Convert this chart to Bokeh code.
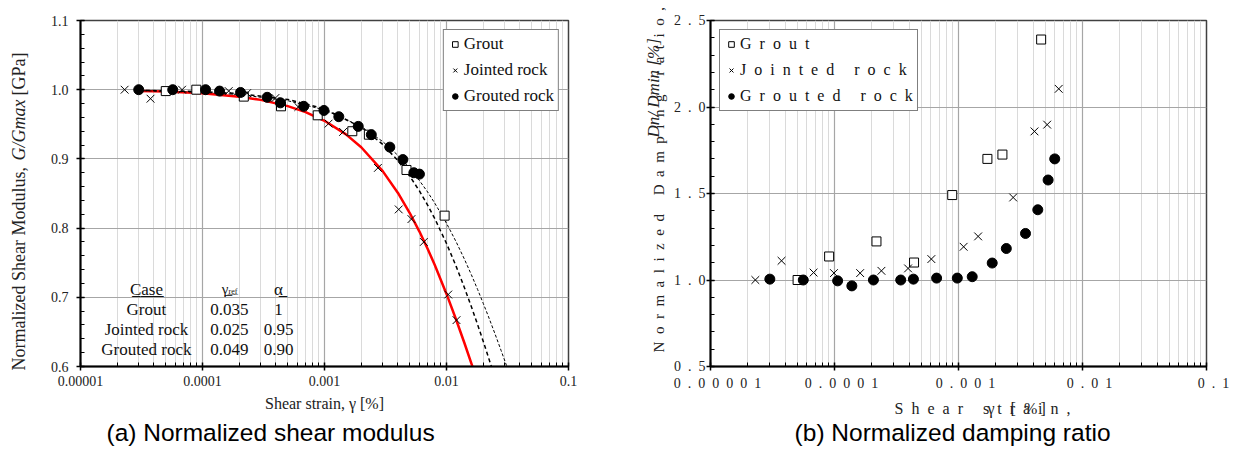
import math
from bokeh.plotting import figure
from bokeh.models import (Range1d, FixedTicker, SingleIntervalTicker, CustomJSTickFormatter,
                          Label, ColumnDataSource, Legend, LegendItem)
from bokeh.layouts import row
from bokeh.embed import file_html
from bokeh.resources import INLINE
from bokeh.core.properties import value

# ---------------- data: (a) normalized shear modulus ----------------
grout_x = [5.0e-5, 8.9e-5, 2.18e-4, 4.4e-4, 8.8e-4, 1.69e-3, 2.31e-3, 4.7e-3, 9.65e-3]
grout_y = [0.998, 1.000, 0.990, 0.976, 0.963, 0.940, 0.935, 0.884, 0.818]
joint_x = [2.3e-5, 3.75e-5, 6.8e-5, 1.64e-4, 2.32e-4, 3.96e-4, 6.1e-4, 1.08e-3, 1.42e-3,
           2.74e-3, 4.06e-3, 5.16e-3, 6.52e-3, 1.033e-2, 1.208e-2]
joint_y = [1.000, 0.987, 1.000, 0.998, 0.995, 0.988, 0.975, 0.951, 0.939,
           0.887, 0.827, 0.813, 0.780, 0.704, 0.667]
groutrock_x = [3.0e-5, 5.7e-5, 1.06e-4, 1.38e-4, 2.05e-4, 3.39e-4, 4.35e-4, 6.76e-4, 9.9e-4,
               1.31e-3, 1.89e-3, 2.42e-3, 3.43e-3, 4.39e-3, 5.4e-3, 6.0e-3]
groutrock_y = [1.000, 1.000, 1.000, 0.998, 0.996, 0.989, 0.981, 0.976, 0.970,
               0.961, 0.947, 0.935, 0.917, 0.899, 0.880, 0.878]

# fitted curves
fit_joint_x = [3e-5, 5e-5, 1e-4, 2e-4, 3e-4, 5e-4, 7e-4, 1e-3, 1.5e-3, 2e-3, 3e-3, 4e-3,
               5e-3, 6e-3, 7e-3, 8e-3, 1e-2, 1.2e-2, 1.4e-2, 1.65e-2]
fit_joint_y = [0.9983, 0.9973, 0.9948, 0.9899, 0.9853, 0.9763, 0.9676, 0.9551, 0.9354, 0.9168,
               0.8823, 0.8508, 0.8218, 0.7950, 0.7702, 0.7470, 0.7049, 0.6676, 0.6343, 0.5974]
fit_grout_x = [3e-5, 1e-4, 2e-4, 5e-4, 1e-3, 2e-3, 3e-3, 4e-3, 5e-3, 6e-3, 7e-3, 8e-3,
               1e-2, 1.2e-2, 1.4e-2, 1.6e-2, 1.8e-2, 2e-2, 2.2e-2, 2.4e-2]
fit_grout_y = [0.9991, 0.9972, 0.9943, 0.9859, 0.9722, 0.9459, 0.9211, 0.8974, 0.8750, 0.8537,
               0.8333, 0.8140, 0.7778, 0.7447, 0.7143, 0.6863, 0.6604, 0.6364, 0.6140, 0.5932]
fit_groutrock_x = [3e-5, 1e-4, 2e-4, 5e-4, 1e-3, 2e-3, 3e-3, 4e-3, 5e-3, 6e-3, 7e-3, 8e-3,
                   1e-2, 1.2e-2, 1.4e-2, 1.6e-2, 1.8e-2, 2e-2, 2.2e-2, 2.5e-2, 2.8e-2, 3.1e-2, 3.3e-2]
fit_groutrock_y = [0.9987, 0.9962, 0.9930, 0.9841, 0.9708, 0.9468, 0.9251, 0.9051, 0.8864, 0.8687,
                   0.8522, 0.8363, 0.8070, 0.7801, 0.7554, 0.7325, 0.7112, 0.6913, 0.6728, 0.6470,
                   0.6233, 0.6016, 0.5880]

table_case = ["Grout", "Jointed rock", "Grouted rock"]
table_gref = ["0.035", "0.025", "0.049"]
table_alpha = ["1", "0.95", "0.90"]

# ---------------- data: (b) normalized damping ratio ----------------
d_grout_x = [5.04e-5, 9.05e-5, 2.18e-4, 4.38e-4, 8.9e-4, 1.71e-3, 2.26e-3, 4.64e-3]
d_grout_y = [1.000, 1.136, 1.223, 1.101, 1.491, 1.700, 1.725, 2.390]
d_joint_x = [2.3e-5, 3.74e-5, 6.78e-5, 9.9e-5, 1.61e-4, 2.39e-4, 3.92e-4, 6.04e-4, 1.10e-3,
             1.44e-3, 2.76e-3, 4.10e-3, 5.19e-3, 6.43e-3]
d_joint_y = [1.000, 1.111, 1.043, 1.040, 1.040, 1.053, 1.067, 1.121, 1.192,
             1.252, 1.477, 1.859, 1.898, 2.105]
d_groutrock_x = [3.01e-5, 5.6e-5, 1.06e-4, 1.38e-4, 2.06e-4, 3.42e-4, 4.33e-4, 6.66e-4, 9.78e-4,
                 1.29e-3, 1.87e-3, 2.43e-3, 3.47e-3, 4.36e-3, 5.28e-3, 5.97e-3]
d_groutrock_y = [1.005, 1.000, 0.995, 0.966, 1.000, 1.000, 1.005, 1.011, 1.011,
                 1.019, 1.098, 1.182, 1.269, 1.406, 1.578, 1.700]

x_tick_labels = ["0.00001", "0.0001", "0.001", "0.01", "0.1"]
y_tick_labels_a = ["0.6", "0.7", "0.8", "0.9", "1.0", "1.1"]
y_tick_labels_b = ["0.5", "1.0", "1.5", "2.0", "2.5"]
legend_labels = ["Grout", "Jointed rock", "Grouted rock"]

# ---------------- styling ----------------
SERIF = "Liberation Serif"
CAP_FONT = "Liberation Sans"
SEP = "\u2002"


def spaced(s, sep=SEP):
    return sep.join(list(s))


major = [10.0 ** e for e in range(-5, 0)]
minor = [k * 10.0 ** e for e in range(-5, -1) for k in range(2, 10)]


def style(p, ylabels, ystart, ystep, xlabels):
    p.xaxis.ticker = FixedTicker(ticks=major, minor_ticks=minor)
    p.xaxis.formatter = CustomJSTickFormatter(
        args=dict(labels=xlabels),
        code="const i = Math.round(Math.log10(tick)) + 5; return (i >= 0 && i < labels.length) ? labels[i] : '';")
    p.yaxis.ticker = SingleIntervalTicker(interval=ystep, num_minor_ticks=5)
    p.yaxis.formatter = CustomJSTickFormatter(
        args=dict(labels=ylabels, start=ystart, step=ystep),
        code="const i = Math.round((tick - start) / step); return (i >= 0 && i < labels.length) ? labels[i] : '';")
    for ax in (p.xaxis[0], p.yaxis[0]):
        ax.axis_line_color = "black"
        ax.axis_line_width = 2
        ax.major_tick_line_color = "black"
        ax.major_tick_line_width = 1.5
        ax.minor_tick_line_color = "black"
        ax.minor_tick_line_width = 1
        ax.major_tick_in = 4
        ax.major_tick_out = 4
        ax.minor_tick_in = 4
        ax.minor_tick_out = 0
        ax.major_label_text_font = SERIF
        ax.major_label_text_font_size = "14px"
        ax.major_label_text_color = "#222222"
        ax.axis_label_text_font = SERIF
        ax.axis_label_text_font_style = "normal"
        ax.axis_label_text_color = "#222222"
    p.xgrid.grid_line_color = "#a6a6a6"
    p.xgrid.grid_line_width = 1.2
    p.xgrid.minor_grid_line_color = "#dadada"
    p.xgrid.minor_grid_line_width = 1
    p.ygrid.grid_line_color = "#a6a6a6"
    p.ygrid.grid_line_width = 1.2
    p.outline_line_color = "#404040"
    p.outline_line_width = 1.5
    p.background_fill_color = "white"
    p.border_fill_color = "white"


def make_legend(p, renderers, labels, loc, font_size):
    items = [LegendItem(label=l, renderers=[r]) for l, r in zip(labels, renderers)]
    lg = Legend(items=items, location=loc, margin=9, padding=4, spacing=6,
                label_height=20, glyph_height=20, glyph_width=14, label_standoff=2,
                border_line_color="black", border_line_width=1, background_fill_alpha=1,
                label_text_font=SERIF, label_text_font_size=font_size, label_text_color="#111111")
    p.add_layout(lg)


def outer_text(p, ax, ay, text, dx, dy, size, font=SERIF, style_="normal", angle=0.0,
               align="left", color="#222222"):
    """Text anchored at a frame corner and pushed outside the frame by pixel offsets."""
    src = ColumnDataSource(dict(x=[ax], y=[ay], t=[text]))
    p.text(x="x", y="y", text="t", source=src, x_offset=dx, y_offset=dy, angle=angle,
           text_font=value(font), text_font_style=style_, text_font_size=size,
           text_align=align, text_baseline="middle", text_color=color, level="overlay")


# ---------------- (a) ----------------
p1 = figure(width=624, height=450, x_axis_type="log", x_range=Range1d(1e-5, 0.1),
            y_range=Range1d(0.6, 1.1), output_backend="svg", toolbar_location=None,
            min_border_left=80, min_border_right=56, min_border_top=20, min_border_bottom=84)
style(p1, y_tick_labels_a, 0.6, 0.1, x_tick_labels)
p1.xaxis.major_label_standoff = 5
p1.yaxis.major_label_standoff = 8
p1.xaxis.axis_label = "Shear strain, \u03b3 [%]"
p1.xaxis.axis_label_text_font_size = "16px"
p1.xaxis.axis_label_standoff = 6

p1.line(fit_joint_x, fit_joint_y, line_color="red", line_width=2.5)
p1.line(fit_grout_x, fit_grout_y, line_color="black", line_width=1.5, line_dash="4 3")
p1.line(fit_groutrock_x, fit_groutrock_y, line_color="black", line_width=1, line_dash="3 2")
ra1 = p1.scatter(grout_x, grout_y, marker="square", size=9, fill_color="white",
                 line_color="black", line_width=1)
ra2 = p1.scatter(joint_x, joint_y, marker="x", size=11, line_color="black", line_width=1)
ra3 = p1.scatter(groutrock_x, groutrock_y, marker="circle", size=10, fill_color="black",
                 line_color="black")
make_legend(p1, [ra1, ra2, ra3], legend_labels, "top_right", "17px")

# parameter table
row_y = [0.6826, 0.6536, 0.6246]
col_case, col_gref, col_alpha = 3.47e-5, 1.66e-4, 4.2e-4
tsrc = ColumnDataSource(dict(
    x=[col_case] * 3 + [col_gref] * 3 + [col_alpha] * 3,
    y=row_y * 3,
    t=table_case + table_gref + table_alpha))
p1.text("x", "y", text="t", source=tsrc, text_font=value(SERIF), text_font_size="17px",
        text_align="center", text_baseline="middle", text_color="#111111")
UL = "\u0332"
p1.add_layout(Label(x=col_case, y=0.7116, text="".join(c + UL for c in "Case"), text_font=SERIF,
                    text_font_size="17px", text_align="center", text_baseline="middle",
                    text_color="#111111"))
p1.add_layout(Label(x=1.633e-4, y=0.7116, text="\u03b3" + UL, text_font=SERIF,
                    text_font_size="15px", text_align="right", text_baseline="middle",
                    text_color="#111111"))
p1.add_layout(Label(x=1.633e-4, y=0.7085, text="".join(c + UL for c in "ref"), text_font=SERIF,
                    text_font_size="8px", text_align="left", text_baseline="middle",
                    text_color="#111111"))
p1.add_layout(Label(x=col_alpha, y=0.7116, text="\u03b1" + UL, text_font=SERIF,
                    text_font_size="17px", text_align="center", text_baseline="middle",
                    text_color="#111111"))

# y-axis label in three pieces (italic middle), and caption
A_X, A_Y = 1.001e-5, 0.6001
outer_text(p1, A_X, A_Y, "Normalized Shear Modulus,", -62, 4, "18px", angle=math.pi / 2)
outer_text(p1, A_X, A_Y, "G/Gmax", -62, -206, "18px", style_="italic", angle=math.pi / 2)
outer_text(p1, A_X, A_Y, "[GPa]", -62, -271, "18px", angle=math.pi / 2)
outer_text(p1, A_X, A_Y, "(a) Normalized shear modulus", 190, 66, "24.5px", font=CAP_FONT,
           align="center", color="black")

# ---------------- (b) ----------------
p2 = figure(width=606, height=450, x_axis_type="log", x_range=Range1d(1e-5, 0.1),
            y_range=Range1d(0.5, 2.5), output_backend="svg", toolbar_location=None,
            min_border_left=86, min_border_right=24, min_border_top=20, min_border_bottom=84)
style(p2, [spaced(s) for s in y_tick_labels_b], 0.5, 0.5,
      [SEP + SEP + spaced(s) for s in x_tick_labels])
p2.xaxis.major_label_standoff = 5
p2.yaxis.major_label_standoff = 1

rb1 = p2.scatter(d_grout_x, d_grout_y, marker="square", size=9, fill_color="white",
                 line_color="black", line_width=1)
rb2 = p2.scatter(d_joint_x, d_joint_y, marker="x", size=11, line_color="black", line_width=1)
rb3 = p2.scatter(d_groutrock_x, d_groutrock_y, marker="circle", size=10, fill_color="black",
                 line_color="black")
make_legend(p2, [rb1, rb2, rb3], [spaced(s) for s in legend_labels], "top_left", "16px")

# axis texts as drawn in the reference (letter-spaced, overlapping)
B_X, B_Y = 1.001e-5, 0.5005
outer_text(p2, B_X, B_Y, spaced("Normalized Damping ratio,"), -52, -14, "15px",
           angle=math.pi / 2)
outer_text(p2, B_X, B_Y, "Dn/ Dmin [%]", -57, -229, "17px", style_="italic", angle=math.pi / 2)
outer_text(p2, B_X, B_Y, spaced("Shear strain,"), 184, 42, "16px")
outer_text(p2, B_X, B_Y, "\u03b3" + SEP + SEP + "[" + SEP + "%\u2009]", 277, 42, "16px")
outer_text(p2, B_X, B_Y, "(b) Normalized damping ratio", 242, 66, "24.5px", font=CAP_FONT,
           align="center", color="black")

layout = row(p1, p2)
open("out.html", "w").write(file_html(layout, INLINE))
